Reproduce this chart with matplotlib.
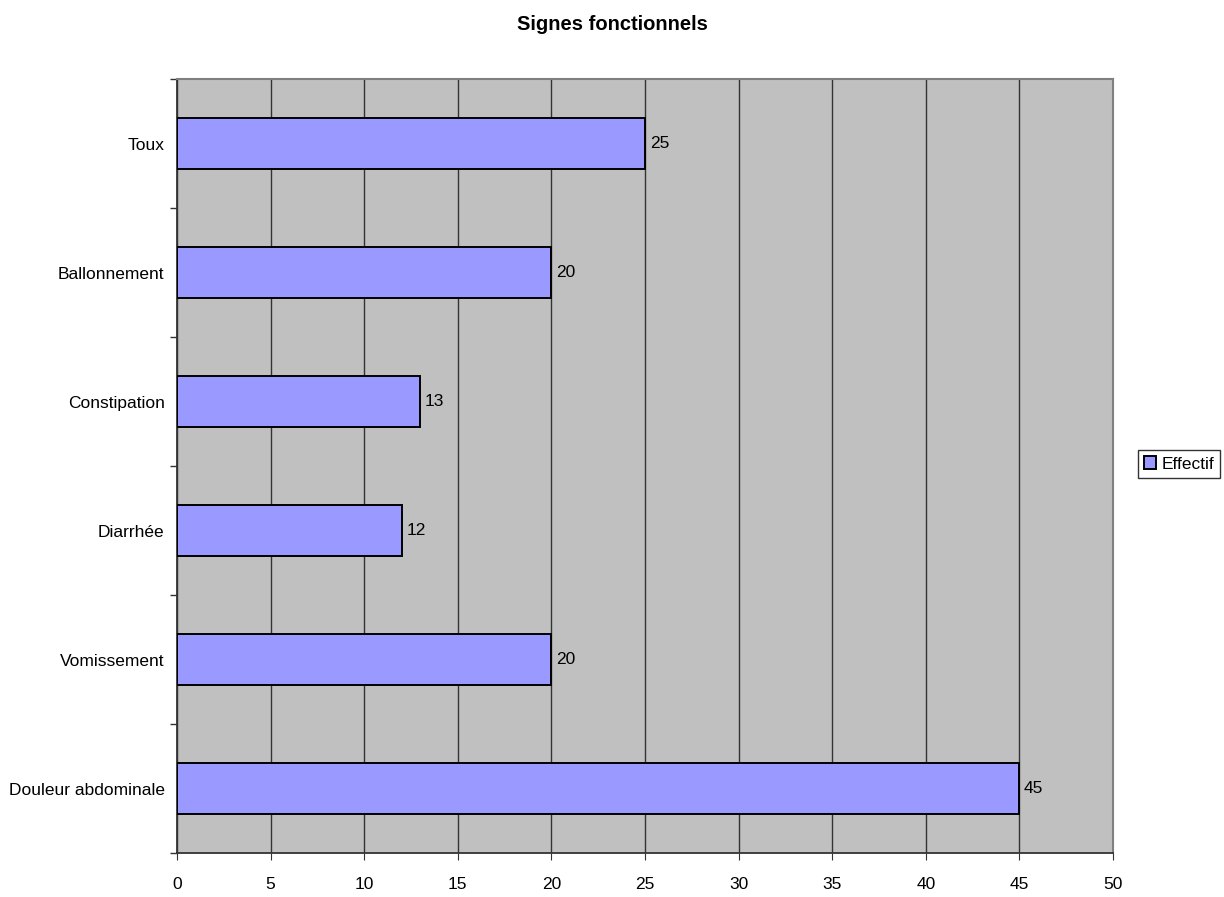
import numpy as np
import matplotlib.pyplot as plt

plt.rcParams['font.family'] = ['Liberation Sans', 'DejaVu Sans']

signes = ['Douleur abdominale', 'Vomissement', 'Diarrhée', 'Constipation',
          'Ballonnement', 'Toux']
effectif = [45, 20, 12, 13, 20, 25]


def main():
    fig = plt.figure(figsize=(12.24, 8.97), dpi=100)
    ax = fig.add_axes([177 / 1224, 1 - 853 / 897, (1113 - 177) / 1224, (853 - 79) / 897])
    ax.set_facecolor('#c0c0c0')

    pos = np.arange(len(signes))
    bars = ax.barh(pos, effectif, height=0.4, color='#9999ff', edgecolor='black',
                   linewidth=1.4, label='Effectif', zorder=3)
    for b, v in zip(bars, effectif):
        ax.text(b.get_width() + 0.25, b.get_y() + b.get_height() / 2, str(v),
                va='center', ha='left', fontsize=12.5)

    ax.set_xlim(0, 50)
    ax.set_ylim(-0.5, len(signes) - 0.5)
    ax.set_xticks(np.arange(0, 51, 5))
    ax.set_yticks(pos)
    ax.set_yticklabels(signes)
    ax.set_yticks(np.arange(-0.5, len(signes), 1), minor=True)
    ax.tick_params(axis='y', which='major', length=0, pad=9, labelsize=12.5)
    ax.tick_params(axis='y', which='minor', length=5, width=1, color='#333333')
    ax.tick_params(axis='x', length=5, pad=12, labelsize=12.5, color='#333333')

    ax.xaxis.grid(True, color='#333333', linewidth=1, zorder=1)
    ax.set_axisbelow(True)
    for side in ['top', 'right']:
        ax.spines[side].set_color('#808080')
        ax.spines[side].set_linewidth(1.5)
    for side in ['left', 'bottom']:
        ax.spines[side].set_color('#333333')
        ax.spines[side].set_linewidth(1.3)

    fig.suptitle('Signes fonctionnels', y=1 - 24 / 897, va='center',
                 fontsize=14.5, fontweight='bold')

    leg = fig.legend(handles=[bars], labels=['Effectif'], loc='center',
                     bbox_to_anchor=(1179 / 1224, 1 - 464 / 897), fontsize=12.5,
                     frameon=True, fancybox=False, handlelength=0.7,
                     handleheight=0.7, handletextpad=0.3, borderpad=0.35,
                     borderaxespad=0)
    leg.get_frame().set_edgecolor('black')
    leg.get_frame().set_linewidth(1)

    fig.savefig('out.png', dpi=100)


if __name__ == '__main__':
    main()
